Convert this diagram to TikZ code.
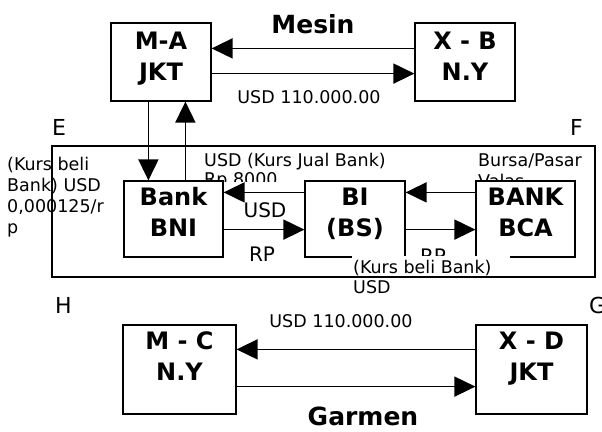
\documentclass[tikz,border=0pt]{standalone}
\usepackage{fontspec}
\setmainfont{DejaVu Sans}
\usetikzlibrary{arrows.meta}

\tikzset{
  unit/.style={draw, line width=1.2pt, fill=white, align=center, inner sep=0pt,
    font=\fontsize{24}{31}\selectfont\bfseries},
  flow/.style={line width=1.7pt, -{Triangle[length=21pt,width=20pt]}},
  note/.style={inner sep=0pt, align=left, font=\fontsize{17.5}{21}\selectfont},
  tag/.style={inner sep=0pt, font=\fontsize{20}{24}\selectfont},
  corner/.style={inner sep=0pt, font=\fontsize{22}{26}\selectfont},
  title/.style={inner sep=0pt, font=\fontsize{25}{30}\selectfont\bfseries}
}

\begin{document}
\begin{tikzpicture}[x=1pt,y=-1pt]
  \useasboundingbox (0,0) rectangle (602,431);
  % Frame of the money market
  \draw[line width=1.3pt] (52,146) rectangle (595,277);
  \node[corner, anchor=base west] (e) at (52,135) {E};
  \node[corner, anchor=base west] (f) at (570,135) {F};
  \node[corner, anchor=base west] (g) at (589,313) {G};
  \node[corner, anchor=base west] (h) at (55,313) {H};
  % Notes behind the boxes
  \node[note, anchor=north west] (kursleft) at (7,157)
    {(Kurs beli\\Bank) USD\\0,000125/r\\p};
  \begin{scope}
    \clip (190,140) rectangle (400,181);
    \node[note, anchor=north west, font=\fontsize{17.5}{19}\selectfont] (jual) at (204,153)
      {USD (Kurs Jual Bank)\\Rp 8000};
  \end{scope}
  \begin{scope}
    \clip (470,140) rectangle (600,181);
    \node[note, anchor=north west] (bursa) at (478,154) {Bursa/Pasar\\Valas};
  \end{scope}
  % Traders and banks
  \node[unit, minimum width=100pt, minimum height=78pt] (ma) at (161,62)
    {M-A\\JKT\\[-20.5pt]\mbox{}};
  \node[unit, minimum width=100pt, minimum height=78pt] (xb) at (465,62)
    {X - B\\N.Y\\[-20.5pt]\mbox{}};
  \node[unit, minimum width=99pt, minimum height=76pt] (bni) at (173.5,219)
    {Bank\\BNI\\[-16.5pt]\mbox{}};
  \node[unit, minimum width=100pt, minimum height=76pt] (bi) at (355,219)
    {BI\\(BS)\\[-16.5pt]\mbox{}};
  \node[unit, minimum width=99pt, minimum height=76pt] (bca) at (525.5,219)
    {BANK\\BCA\\[-16.5pt]\mbox{}};
  \node[unit, minimum width=113pt, minimum height=89pt] (mc) at (179.5,369.5)
    {M - C\\N.Y\\[-3.5pt]\mbox{}};
  \node[unit, minimum width=111pt, minimum height=89pt] (xd) at (531.5,369.5)
    {X - D\\JKT\\[-3.5pt]\mbox{}};
  \node[title, anchor=base] (mesin) at (313,33) {Mesin};
  \node[title, anchor=base] (garmen) at (363,425) {Garmen};
  % Mesin trade
  \draw[flow] ([yshift=-26pt]xb.north west) -- ([yshift=-26pt]ma.north east);
  \draw[flow] ([yshift=28pt]ma.south east) -- ([yshift=28pt]xb.south west);
  \node[note, anchor=base] (amttop) at (309,103) {USD 110.000.00};
  % Exchange through the banks
  \coordinate (down) at ([xshift=25pt]bni.north west);
  \coordinate (up) at ([xshift=62pt]bni.north west);
  \draw[flow] (down |- ma.south) -- (down);
  \draw[flow] (up) -- (up |- ma.south);
  \draw[flow] ([yshift=-12pt]bi.north west) -- ([yshift=-12pt]bni.north east);
  \draw[flow] ([yshift=28pt]bni.south east) -- ([yshift=28pt]bi.south west);
  \draw[flow] ([yshift=-12pt]bca.north west) -- ([yshift=-12pt]bi.north east);
  \draw[flow] ([yshift=28pt]bi.south east) -- ([yshift=28pt]bca.south west);
  \node[tag, anchor=base] (usdmid) at (265,217) {USD};
  \node[tag, anchor=base] (rpmid) at (262,261) {RP};
  \node[tag, anchor=base] (rpright) at (433,263) {RP};
  % Kurs beli note over the bottom edge
  \fill[white] (352,256) rectangle (510,275);
  \node[note, anchor=north west, font=\fontsize{17.5}{20}\selectfont] (kursbottom) at (353,260)
    {(Kurs beli Bank)\\USD};
  % Garmen trade
  \node[note, anchor=base] (amtbot) at (341,327) {USD 110.000.00};
  \draw[flow] ([yshift=-25pt]xd.north west) -- ([yshift=-25pt]mc.north east);
  \draw[flow] ([yshift=28pt]mc.south east) -- ([yshift=28pt]xd.south west);
\end{tikzpicture}
\end{document}
